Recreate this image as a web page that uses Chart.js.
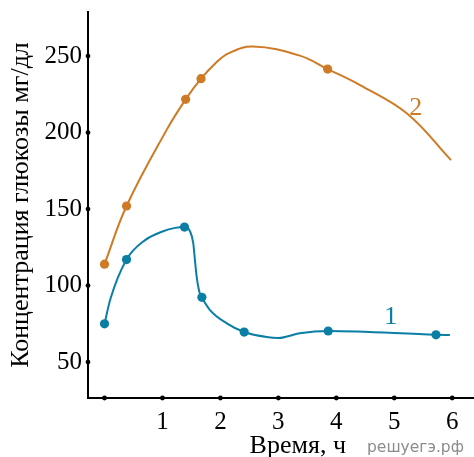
<!DOCTYPE html>
<html><head><meta charset="utf-8">
<script src="https://cdn.jsdelivr.net/npm/chart.js@4.4.1/dist/chart.umd.min.js"></script>
<style>html,body{margin:0;padding:0;background:#fff;overflow:hidden}#wrap{width:474px;height:457px;position:relative}</style>
</head><body><div id="wrap"><canvas id="c" width="474" height="457"></canvas></div>
<script>
// ---- data ----
const xTickValues = [0, 1, 2, 3, 4, 5, 6];
const xTickLabels = ['', '1', '2', '3', '4', '5', '6'];
const yTickValues = [50, 100, 150, 200, 250];

// Series 1 (blue): measured points (markers)
const s1MarkX = [0, 0.38, 1.38, 1.68, 2.41, 3.86, 5.72];
const s1MarkY = [75, 117, 138.2, 92.3, 69.6, 70.3, 67.8];
// Series 1: curve
const s1CurveX = [0, 0.10, 0.38, 0.70, 0.99, 1.22, 1.38, 1.475, 1.532, 1.56, 1.59, 1.636, 1.68, 1.82, 2.11, 2.41, 2.80, 3.00, 3.37, 3.86, 5.72, 5.96];
const s1CurveY = [75, 91, 117, 129.7, 135.2, 137.7, 138.2, 135.5, 127.6, 116.7, 105.8, 96.0, 92.3, 84.0, 75.3, 69.6, 66.3, 65.7, 68.8, 70.3, 67.8, 67.6];

// Series 2 (orange): measured points (markers)
const s2MarkX = [0, 0.38, 1.40, 1.665, 3.85];
const s2MarkY = [114, 152, 221.7, 235.2, 241.5];
// Series 2: curve
const s2CurveX = [0, 0.38, 1.07, 1.40, 1.665, 1.91, 2.14, 2.56, 3.37, 3.85, 4.41, 5.22, 5.98];
const s2CurveY = [114, 152, 201.6, 221.7, 235.2, 245.2, 251.8, 256.2, 250.3, 241.5, 231, 212.5, 182];

// Series labels ("1", "2") placed in data coordinates
const seriesLabelText = ['1', '2'];
const seriesLabelX = [4.94, 5.37];
const seriesLabelY = [79.2, 216.2];

const xTitle = 'Время, ч';
const yTitle = 'Концентрация глюкозы мг/дл';
const watermark = 'решуегэ.рф';

// ---- styling ----
const BLUE = '#0a7ea5';
const ORANGE = '#cf7a25';
const SERIF = '"Liberation Serif", "Times New Roman", serif';

const pts = (xs, ys) => xs.map((x, i) => ({ x: x, y: ys[i] }));

const tickDots = {
  id: 'tickDots',
  afterDraw(chart) {
    const ctx = chart.ctx, a = chart.chartArea;
    const xs = chart.scales.x, ys = chart.scales.y;
    ctx.save();
    ctx.fillStyle = '#000';
    xTickValues.forEach(v => {
      ctx.beginPath(); ctx.arc(xs.getPixelForValue(v), a.bottom, 2.4, 0, Math.PI * 2); ctx.fill();
    });
    yTickValues.forEach(v => {
      ctx.beginPath(); ctx.arc(a.left, ys.getPixelForValue(v), 2.4, 0, Math.PI * 2); ctx.fill();
    });
    // series labels
    ctx.font = '26px ' + SERIF;
    ctx.textAlign = 'center';
    ctx.textBaseline = 'middle';
    const cols = [BLUE, ORANGE];
    seriesLabelText.forEach((t, i) => {
      ctx.fillStyle = cols[i];
      ctx.fillText(t, xs.getPixelForValue(seriesLabelX[i]), ys.getPixelForValue(seriesLabelY[i]));
    });
    // x axis title
    ctx.fillStyle = '#000';
    ctx.textBaseline = 'alphabetic';
    ctx.font = '26px ' + SERIF;
    ctx.fillText(xTitle, 297.8, 453);
    // watermark
    ctx.fillStyle = '#8c8c8c';
    ctx.textAlign = 'left';
    ctx.font = '15.5px "DejaVu Sans", sans-serif';
    ctx.fillText(watermark, 367, 452);
    ctx.restore();
  }
};

new Chart(document.getElementById('c'), {
  type: 'line',
  data: {
    datasets: [
      { data: pts(s1MarkX, s1MarkY), showLine: false, pointRadius: 4.6, pointBackgroundColor: BLUE, pointBorderWidth: 0, borderColor: BLUE },
      { data: pts(s2MarkX, s2MarkY), showLine: false, pointRadius: 4.6, pointBackgroundColor: ORANGE, pointBorderWidth: 0, borderColor: ORANGE },
      { data: pts(s1CurveX, s1CurveY), borderColor: BLUE, borderWidth: 2, pointRadius: 0, cubicInterpolationMode: 'monotone', fill: false },
      { data: pts(s2CurveX, s2CurveY), borderColor: ORANGE, borderWidth: 2, pointRadius: 0, tension: 0.4, fill: false }
    ]
  },
  options: {
    responsive: false,
    animation: false,
    devicePixelRatio: 1,
    layout: { autoPadding: false, padding: { top: 12, right: 0, left: 0, bottom: 0 } },
    plugins: { legend: { display: false }, tooltip: { enabled: false } },
    scales: {
      x: {
        type: 'linear',
        min: -0.285,
        max: 6.376,
        afterFit(s) { s.height = 59; s.paddingLeft = 0; s.paddingRight = 0; },
        afterBuildTicks(s) { s.ticks = xTickValues.map(v => ({ value: v })); },
        grid: { display: false, drawTicks: false },
        border: { display: true, color: '#000', width: 2 },
        ticks: {
          padding: 9,
          color: '#000',
          font: { family: SERIF, size: 25 },
          maxRotation: 0,
          autoSkip: false,
          callback: (v) => xTickLabels[xTickValues.indexOf(v)] ?? ''
        }
      },
      y: {
        type: 'linear',
        min: 26.5,
        max: 278.8,
        afterFit(s) { s.width = 88; s.paddingTop = 0; s.paddingBottom = 0; },
        afterBuildTicks(s) { s.ticks = yTickValues.map(v => ({ value: v })); },
        grid: { display: false, drawTicks: false },
        border: { display: true, color: '#000', width: 2 },
        ticks: {
          padding: 6,
          color: '#000',
          font: { family: SERIF, size: 25 },
          autoSkip: false
        },
        title: {
          display: true,
          text: yTitle,
          color: '#000',
          font: { family: SERIF, size: 26, lineHeight: 1.2 },
          padding: { top: 5.4, bottom: 0 }
        }
      }
    }
  },
  plugins: [tickDots]
});
</script>
</body></html>
